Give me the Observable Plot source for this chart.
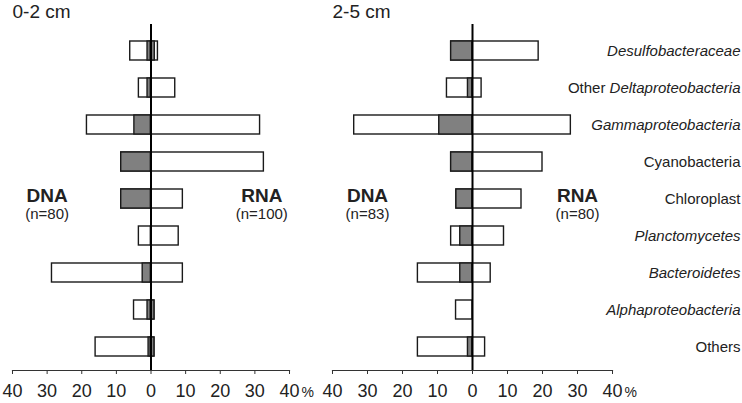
<!DOCTYPE html>
<html>
<head>
<meta charset="utf-8">
<script src="https://cdn.jsdelivr.net/npm/d3@7"></script>
<script src="https://cdn.jsdelivr.net/npm/@observablehq/plot@0.6"></script>
<style>
  body { margin: 0; background: #fff; }
  #wrap { position: relative; width: 742px; height: 403px; font-family: "Liberation Sans", Arial, sans-serif; }
  #wrap svg { position: absolute; top: 0; }
</style>
</head>
<body>
<div id="wrap"></div>
<script>
// ---- data ----
const categories = ["Desulfobacteraceae", "Other Deltaproteobacteria", "Gammaproteobacteria",
  "Cyanobacteria", "Chloroplast", "Planctomycetes", "Bacteroidetes", "Alphaproteobacteria", "Others"];
const italicNames = ["Desulfobacteraceae", "Gammaproteobacteria", "Planctomycetes", "Bacteroidetes", "Alphaproteobacteria"];
const mixedName = "Other Deltaproteobacteria";
const panelTitles = ["0-2 cm", "2-5 cm"];
const dnaN = [80, 83];
const rnaN = [100, 80];
const xTicks = [-40, -30, -20, -10, 0, 10, 20, 30, 40];

// 0-2 cm  (% of clones)
const dna02     = [6.0, 3.5, 18.5, 8.6, 8.6, 3.5, 28.6, 4.9, 16.0];
const dnaGrey02 = [1.0, 1.0, 4.8, 8.6, 8.6, 0, 2.4, 1.0, 0.7];
const rna02     = [2.0, 7.0, 31.5, 32.6, 9.2, 8.0, 9.2, 1.0, 1.0];
const rnaGrey02 = [1.1, 0, 0, 0, 0, 0, 0, 1.0, 1.0];
// 2-5 cm
const dna25     = [6.1, 7.3, 33.8, 6.1, 4.6, 6.1, 15.6, 4.7, 15.6];
const dnaGrey25 = [6.1, 1.3, 9.5, 6.1, 4.6, 3.5, 3.5, 0, 1.3];
const rna25     = [18.9, 2.6, 28.1, 20.0, 14.0, 9.0, 5.2, 0, 3.6];
const rnaGrey25 = [0, 0, 0, 0, 0, 0, 0, 0, 0];

const GREY = "#808080", INK = "#1a1a1a";

function panel({title, dna, dnaG, rna, rnaG, nD, nR, width, marginRight, labelX, showCats}) {
  const rows = categories.map((c, i) => ({cat: c, dna: dna[i], dnaG: dnaG[i], rna: rna[i], rnaG: rnaG[i]}));
  const barStyle = {y: "cat", stroke: INK, strokeWidth: 1.4};
  const marks = [
    Plot.barX(rows.filter(d => d.dna > 0), {...barStyle, x1: d => -d.dna, x2: 0, fill: "white"}),
    Plot.barX(rows.filter(d => d.dnaG > 0), {...barStyle, x1: d => -d.dnaG, x2: 0, fill: GREY}),
    Plot.barX(rows.filter(d => d.rna > 0), {...barStyle, x1: 0, x2: d => d.rna, fill: "white"}),
    Plot.barX(rows.filter(d => d.rnaG > 0), {...barStyle, x1: 0, x2: d => d.rnaG, fill: GREY}),
    Plot.ruleX([0], {stroke: "black", strokeWidth: 2}),
    Plot.frame({anchor: "bottom", stroke: "#333", strokeWidth: 1.2}),
    Plot.axisX({ticks: xTicks, tickFormat: d => Math.abs(d), tickSize: 4, tickPadding: 10, fontSize: 18,
      stroke: "#333", fill: "#222", label: null}),
    Plot.text(["%"], {x: xTicks[xTicks.length - 1], frameAnchor: "bottom", dx: 12, dy: 17, lineAnchor: "top",
      textAnchor: "start", fontSize: 14, fill: "#222"}),
    Plot.text([title], {frameAnchor: "top-left", textAnchor: "start", dy: -20, fontSize: 19, fill: "#222"}),
    Plot.text([{x: labelX[0], y: categories[4], t: "DNA"}, {x: labelX[1], y: categories[4], t: "RNA"}],
      {x: "x", y: "y", text: "t", fontSize: 19, fontWeight: "bold", dy: -3, fill: "#222"}),
    Plot.text([{x: labelX[0], y: categories[4], t: `(n=${nD})`}, {x: labelX[1], y: categories[4], t: `(n=${nR})`}],
      {x: "x", y: "y", text: "t", fontSize: 15, dy: 15, fill: "#222"})
  ];
  if (showCats) {
    marks.push(Plot.text(categories.filter(c => italicNames.includes(c)),
      {y: d => d, text: d => d, frameAnchor: "right", textAnchor: "end", dx: 128, fontSize: 15, fontStyle: "italic", fill: "#222"}));
    marks.push(Plot.text(categories.filter(c => !italicNames.includes(c)),
      {y: d => d, text: d => d, frameAnchor: "right", textAnchor: "end", dx: 128, fontSize: 15, fill: "#222"}));
  }
  return Plot.plot({
    width, height: 403,
    marginLeft: 12, marginRight, marginTop: 24, marginBottom: 33,
    style: {fontFamily: "Liberation Sans, Arial, sans-serif", color: "#222", background: "white"},
    x: {domain: [-40, 40], axis: null},
    y: {domain: categories, range: [28.6, 368.4], paddingInner: 0.5, paddingOuter: 0.25, axis: null},
    marks
  });
}

const wrap = document.getElementById("wrap");
const left = panel({title: panelTitles[0], dna: dna02, dnaG: dnaGrey02, rna: rna02, rnaG: rnaGrey02,
  nD: dnaN[0], nR: rnaN[0], width: 320, marginRight: 31, labelX: [-30, 32], showCats: false});
const right = panel({title: panelTitles[1], dna: dna25, dnaG: dnaGrey25, rna: rna25, rnaG: rnaGrey25,
  nD: dnaN[1], nR: rnaN[1], width: 422, marginRight: 130, labelX: [-30, 30], showCats: true});
left.style.left = "0px";
right.style.left = "320px";
wrap.appendChild(left);
wrap.appendChild(right);

// mixed-style label: "Other" upright, "Deltaproteobacteria" italic
d3.select(right).selectAll("text").each(function () {
  if (this.textContent === mixedName) {
    const parts = mixedName.split(" ");
    const sel = d3.select(this);
    sel.text(null);
    sel.append("tspan").text(parts[0] + " ");
    sel.append("tspan").attr("font-style", "italic").text(parts.slice(1).join(" "));
  }
});
</script>
</body>
</html>
